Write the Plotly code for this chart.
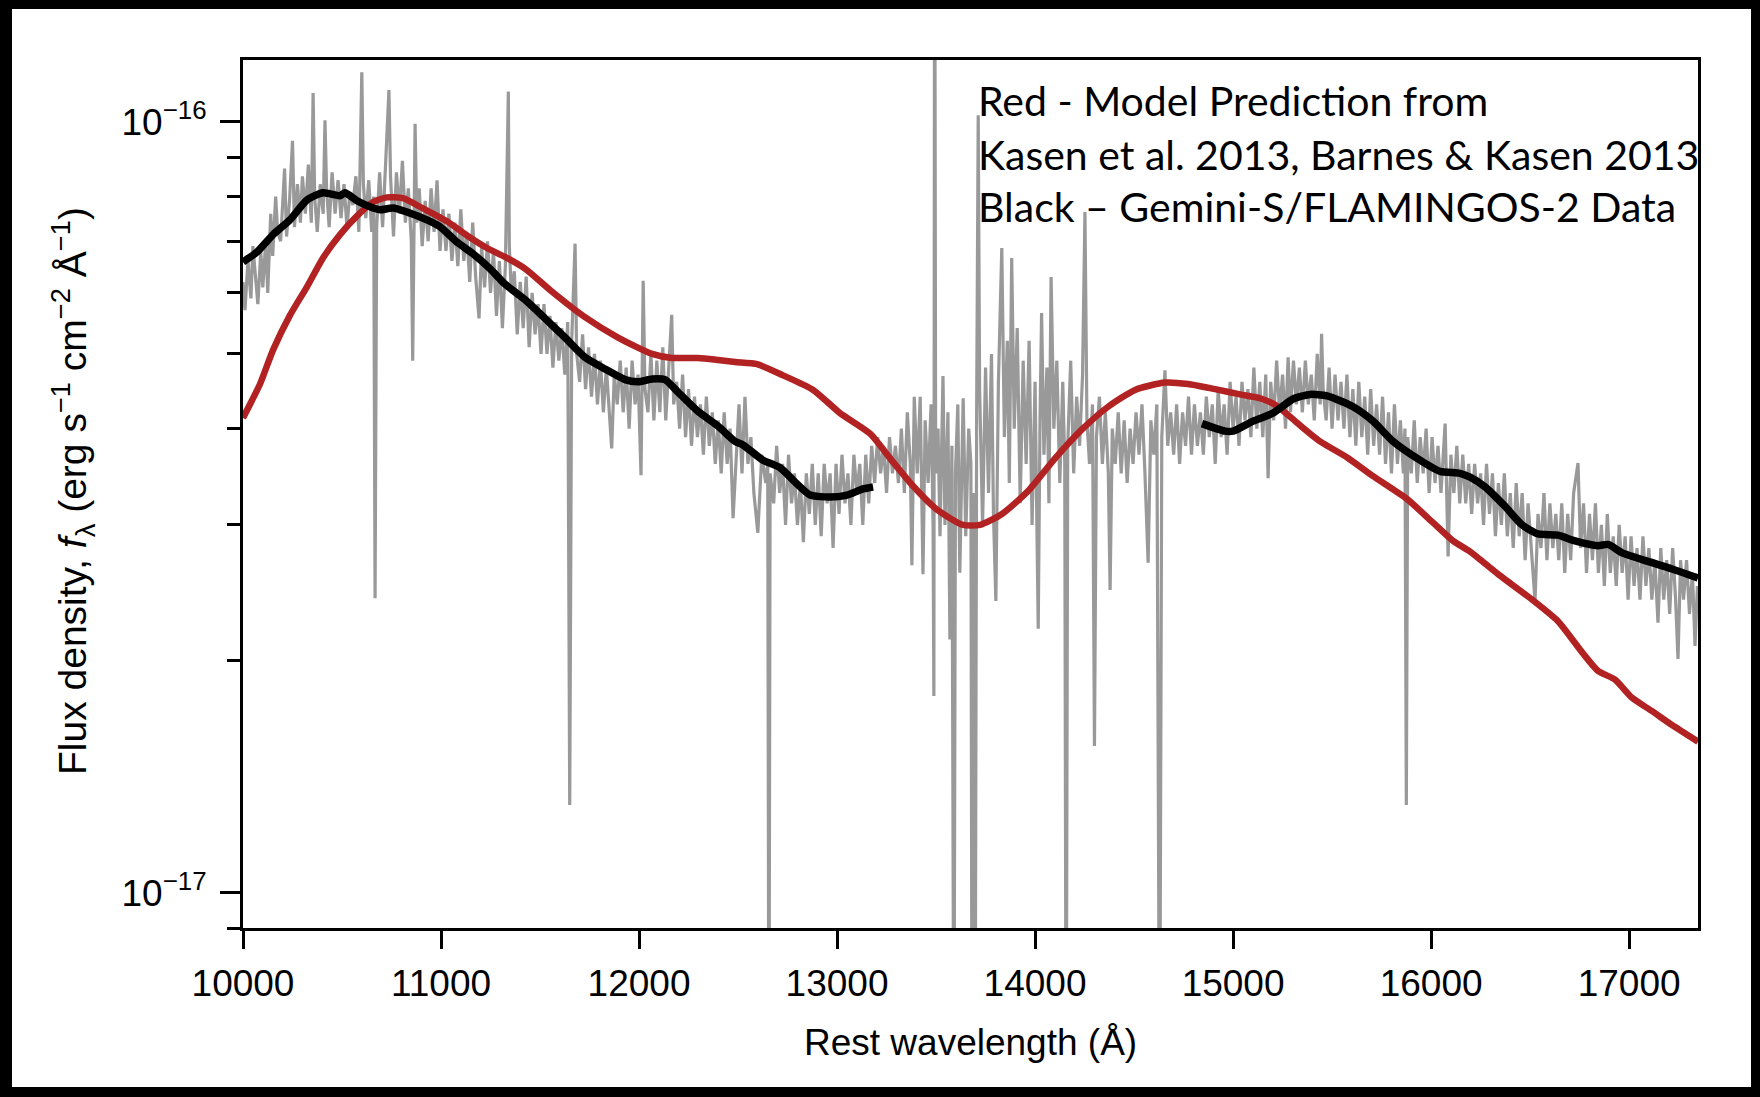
import plotly.graph_objects as go
import numpy as np

# ---------------- data (flux in units of 1e-17 erg s^-1 cm^-2 A^-1) ----------------
FLUX_UNIT = 1e-17

# Gray: observed spectrum, split into wavelength segments
gray_wave_1 = [10000, 10010, 10025, 10040, 10050, 10065, 10075, 10090, 10100, 10115,
               10125, 10140, 10150, 10165, 10175, 10190, 10200, 10210, 10220, 10235,
               10250, 10260, 10275, 10290, 10300, 10315, 10330, 10345, 10354, 10362,
               10375, 10390, 10405, 10414, 10422, 10435, 10450, 10465, 10480, 10495,
               10510, 10525, 10540, 10555, 10570, 10585, 10600, 10608, 10620, 10635,
               10650, 10660, 10667, 10675, 10690, 10705, 10720, 10737, 10745, 10760,
               10775, 10790, 10805, 10820, 10835, 10850, 10857, 10863, 10869, 10878,
               10890, 10905, 10920, 10935, 10950, 10965, 10980, 10995]
gray_flux_1 = [6.2, 5.7, 6.6, 5.9, 6.9, 6.3, 5.8, 6.8, 6.1, 7.0,
               6.0, 7.6, 6.7, 8.0, 7.2, 7.0, 7.8, 8.7, 7.1, 7.9,
               9.45, 7.3, 8.3, 7.4, 8.5, 7.6, 8.8, 7.4, 10.9, 8.0,
               7.2, 8.3, 7.6, 10.05, 8.2, 7.3, 8.6, 7.6, 8.4, 7.5,
               8.3, 7.3, 8.1, 7.8, 8.5, 7.2, 11.6, 8.3, 7.5, 8.4,
               7.2, 8.0, 2.41, 7.3, 8.6, 7.3, 8.8, 11.0, 8.5, 7.1,
               8.6, 7.6, 8.9, 7.4, 8.2, 7.0, 4.9, 7.6, 9.94, 7.4,
               8.2, 6.9, 7.9, 7.0, 8.2, 7.2, 8.4, 6.8]

gray_wave_2 = [11010, 11025, 11040, 11055, 11070, 11085, 11100, 11115, 11130, 11145,
               11160, 11175, 11192, 11205, 11220, 11235, 11250, 11265, 11280, 11295,
               11310, 11325, 11335, 11340, 11345, 11355, 11370, 11385, 11400, 11415,
               11430, 11445, 11460, 11475, 11490, 11505, 11520, 11535, 11550, 11565,
               11580, 11595, 11610, 11625, 11640, 11650, 11660, 11677, 11685, 11700,
               11715, 11730, 11745, 11760, 11775, 11790, 11805, 11820, 11835, 11850,
               11862, 11875, 11890, 11905, 11920, 11935, 11950, 11965, 11980, 11995]
gray_flux_2 = [7.7, 6.8, 7.6, 6.6, 7.4, 6.5, 7.7, 6.6, 7.2, 6.2,
               7.4, 6.3, 5.56, 6.9, 6.1, 7.0, 6.0, 6.8, 5.6, 6.6,
               5.4, 6.5, 9.6, 10.95, 6.9, 6.0, 6.4, 5.3, 6.2, 5.4,
               6.3, 5.1, 6.0, 5.3, 5.8, 5.0, 5.8, 5.0, 5.6, 4.8,
               5.5, 4.9, 5.4, 4.7, 5.5, 1.30, 5.2, 6.95, 5.0, 4.6,
               5.3, 4.5, 5.1, 4.4, 5.0, 4.3, 4.9, 4.2, 4.8, 4.1,
               3.77, 4.7, 4.3, 4.9, 4.2, 4.8, 4.0, 4.9, 4.3, 4.7]

gray_wave_3 = [12010, 12021, 12030, 12045, 12060, 12075, 12090, 12105, 12120, 12135,
               12150, 12165, 12175, 12190, 12205, 12220, 12235, 12250, 12265, 12280,
               12295, 12310, 12325, 12340, 12355, 12370, 12385, 12400, 12415, 12430,
               12445, 12460, 12475, 12490, 12505, 12520, 12535, 12550, 12565, 12580,
               12600, 12620, 12640, 12650, 12656, 12662, 12680, 12695, 12710, 12725,
               12740, 12755, 12770, 12785, 12800, 12815, 12830, 12845, 12860, 12875,
               12890, 12905, 12920, 12935, 12950, 12965, 12980, 12995]
gray_flux_3 = [3.48, 6.22, 4.5, 4.2, 5.0, 4.1, 4.9, 4.2, 5.1, 4.1,
               4.8, 5.62, 4.3, 4.6, 4.0, 4.7, 3.9, 4.5, 3.8, 4.4,
               3.9, 4.3, 3.7, 4.4, 3.8, 4.2, 3.6, 4.1, 3.5, 4.2,
               3.6, 4.0, 3.06, 3.7, 4.3, 3.5, 4.4, 3.6, 3.9, 3.3,
               2.93, 3.7, 3.4, 3.6, 0.5, 3.5, 3.2, 3.8, 3.3, 3.6,
               3.0, 3.7, 3.2, 3.5, 3.0, 3.4, 2.85, 3.5, 3.1, 3.6,
               3.0, 3.5, 2.9, 3.6, 3.2, 3.5, 2.8, 3.6]

gray_wave_4 = [13010, 13025, 13040, 13055, 13070, 13085, 13100, 13115, 13130, 13145,
               13160, 13175, 13190, 13205, 13220, 13235, 13250, 13265, 13280, 13295,
               13310, 13325, 13340, 13355, 13370, 13378, 13390, 13405, 13420, 13434,
               13445, 13460, 13475, 13485, 13489, 13493, 13498, 13510, 13520, 13535,
               13545, 13560, 13570, 13580, 13590, 13598, 13610, 13620, 13637, 13650,
               13665, 13676, 13682, 13690, 13697, 13705, 13713, 13720, 13735, 13750,
               13765, 13780, 13790, 13802, 13815, 13832, 13845, 13860, 13870, 13882,
               13895, 13910, 13925, 13940, 13955, 13970, 13985]
gray_flux_4 = [3.1, 3.7, 3.2, 3.5, 3.0, 3.7, 3.3, 3.6, 3.0, 3.7,
               3.2, 3.8, 3.4, 3.9, 3.5, 3.8, 3.3, 3.9, 3.5, 3.8,
               3.4, 4.0, 3.3, 4.2, 3.6, 2.66, 4.4, 3.5, 4.4, 2.59,
               4.1, 3.4, 4.3, 3.0, 1.8, 25.0, 3.5, 4.0, 2.9, 4.68,
               3.0, 4.2, 2.13, 3.8, 0.5, 3.5, 4.3, 2.6, 4.38, 2.9,
               4.0, 3.6, 0.5, 3.3, 0.5, 4.2, 10.2, 4.5, 3.0, 4.8,
               3.3, 5.0, 3.1, 2.39, 4.6, 6.86, 3.9, 5.2, 3.4, 6.66,
               4.0, 5.4, 3.2, 4.9, 3.6, 5.2, 3.0]

gray_wave_5 = [14000, 14016, 14025, 14033, 14045, 14060, 14070, 14081, 14095, 14110,
               14125, 14140, 14150, 14157, 14165, 14180, 14195, 14210, 14225, 14240,
               14252, 14262, 14275, 14290, 14300, 14310, 14325, 14340, 14355, 14370,
               14379, 14390, 14405, 14420, 14435, 14450, 14465, 14480, 14495, 14510,
               14525, 14540, 14555, 14571, 14585, 14600, 14615, 14629, 14640, 14656,
               14670, 14685, 14700, 14715, 14730, 14745, 14760, 14775, 14790, 14805,
               14820, 14835, 14850, 14865, 14880, 14895, 14910, 14925, 14940, 14955,
               14970, 14985]
gray_flux_5 = [4.6, 2.20, 4.1, 5.65, 3.7, 4.8, 3.2, 6.29, 4.0, 4.9,
               3.4, 4.6, 3.6, 0.5, 3.8, 4.9, 3.5, 4.4, 3.8, 4.7,
               7.64, 4.1, 3.6, 4.3, 1.55, 3.9, 4.4, 3.6, 4.2, 3.5,
               2.47, 4.0, 3.6, 4.2, 3.5, 4.1, 3.4, 4.0, 3.6, 4.2,
               3.7, 4.3, 3.5, 2.68, 4.1, 3.7, 4.3, 0.5, 3.9, 4.76,
               3.8, 4.2, 3.7, 4.3, 3.6, 4.2, 3.8, 4.4, 3.7, 4.3,
               3.8, 4.2, 3.7, 4.4, 3.9, 4.3, 3.6, 4.5, 3.9, 4.3,
               3.7, 4.6]

gray_wave_6 = [15000, 15015, 15030, 15045, 15060, 15075, 15090, 15105, 15120, 15135,
               15150, 15165, 15177, 15190, 15205, 15220, 15235, 15250, 15265, 15278,
               15290, 15305, 15320, 15335, 15350, 15365, 15380, 15395, 15410, 15425,
               15440, 15447, 15455, 15470, 15485, 15500, 15515, 15530, 15545, 15560,
               15575, 15590, 15605, 15620, 15635, 15650, 15665, 15680, 15695, 15710,
               15725, 15740, 15755, 15770, 15785, 15800, 15815, 15830, 15845, 15860,
               15868, 15875, 15882, 15900, 15915, 15930, 15945, 15960, 15975, 15990]
gray_flux_6 = [4.0, 4.4, 3.8, 4.6, 4.1, 4.5, 3.9, 4.8, 4.0, 4.6,
               3.9, 4.7, 3.45, 4.6, 4.1, 4.9, 4.2, 4.7, 4.0, 4.95,
               4.2, 4.9, 4.3, 4.8, 4.2, 4.9, 4.3, 4.7, 4.1, 5.0,
               4.3, 5.31, 4.5, 4.1, 4.8, 4.0, 4.7, 4.1, 4.6, 4.0,
               4.7, 3.9, 4.5, 3.8, 4.6, 3.9, 4.4, 3.7, 4.5, 3.8,
               4.3, 3.7, 4.4, 3.6, 4.2, 3.5, 4.3, 3.6, 4.1, 3.5,
               4.0, 1.30, 3.9, 3.5, 4.1, 3.4, 3.9, 3.5, 4.0, 3.3]

gray_wave_7 = [16005, 16020, 16035, 16050, 16071, 16086, 16100, 16115, 16130, 16145,
               16160, 16175, 16190, 16205, 16220, 16235, 16250, 16265, 16280, 16295,
               16310, 16325, 16340, 16355, 16370, 16385, 16400, 16415, 16430, 16445,
               16460, 16475, 16490, 16505, 16525, 16540, 16555, 16570, 16585, 16600,
               16615, 16630, 16645, 16660, 16675, 16690, 16705, 16720, 16742, 16755,
               16770, 16785, 16800, 16815, 16830, 16845, 16860, 16875, 16890, 16905,
               16920, 16935, 16950, 16965, 16980, 16995, 17010, 17025, 17040, 17055,
               17070, 17085, 17100, 17115, 17130, 17146, 17160, 17175, 17190, 17205,
               17220, 17235, 17247, 17260, 17275, 17290, 17305, 17320, 17333, 17345]
gray_flux_7 = [3.9, 3.4, 3.8, 3.3, 4.06, 2.73, 3.7, 3.3, 3.8, 3.2,
               3.7, 3.2, 3.6, 3.1, 3.6, 3.2, 3.5, 3.0, 3.6, 3.1,
               3.5, 2.9, 3.4, 3.0, 3.5, 2.9, 3.3, 2.8, 3.4, 2.9,
               3.3, 2.7, 3.2, 2.8, 2.39, 3.1, 2.8, 3.3, 2.7, 3.2,
               2.8, 3.1, 2.7, 3.2, 2.6, 3.1, 2.7, 3.3, 3.61, 2.8,
               3.2, 2.6, 3.1, 2.7, 3.2, 2.6, 3.0, 2.5, 3.1, 2.6,
               2.9, 2.5, 3.0, 2.6, 2.9, 2.4, 2.9, 2.5, 2.8, 2.4,
               2.9, 2.5, 2.8, 2.4, 2.7, 2.24, 2.8, 2.4, 2.7, 2.3,
               2.8, 2.4, 2.01, 2.7, 2.4, 2.7, 2.3, 2.6, 2.09, 2.5]

# Red: model prediction
red_wave = [10000, 10086, 10152, 10237, 10323, 10404, 10490, 10576, 10657, 10727,
            10808, 10909, 11030, 11131, 11232, 11323, 11424, 11561, 11727, 11894,
            12066, 12167, 12298, 12399, 12485, 12596, 12727, 12879, 13015, 13167,
            13268, 13384, 13505, 13636, 13722, 13833, 13965, 14101, 14237, 14369,
            14505, 14657, 14773, 14909, 15035, 15136, 15222, 15323, 15439, 15576,
            15707, 15879, 16010, 16111, 16197, 16338, 16510, 16641, 16763, 16843,
            16929, 17015, 17116, 17217, 17348]
red_flux = [4.13, 4.57, 5.06, 5.61, 6.11, 6.66, 7.14, 7.55, 7.87, 7.98,
            7.96, 7.72, 7.43, 7.12, 6.86, 6.68, 6.45, 6.02, 5.58, 5.25,
            5.00, 4.94, 4.94, 4.91, 4.88, 4.85, 4.69, 4.49, 4.19, 3.94,
            3.66, 3.37, 3.14, 3.00, 3.00, 3.10, 3.32, 3.66, 3.99, 4.27,
            4.49, 4.59, 4.57, 4.50, 4.43, 4.38, 4.28, 4.07, 3.85, 3.67,
            3.47, 3.24, 3.02, 2.86, 2.77, 2.59, 2.40, 2.25, 2.05, 1.94,
            1.89, 1.79, 1.72, 1.65, 1.57]

# Black: smoothed data, two segments
black_wave_1 = [10000, 10071, 10152, 10237, 10323, 10404, 10490, 10515, 10576, 10657,
                10692, 10758, 10828, 10929, 10995, 11081, 11162, 11247, 11323, 11424,
                11525, 11626, 11727, 11828, 11929, 11995, 12066, 12131, 12197, 12298,
                12399, 12485, 12525, 12626, 12712, 12798, 12864, 12965, 13050, 13131,
                13182]
black_flux_1 = [6.58, 6.78, 7.14, 7.46, 7.92, 8.09, 8.02, 8.09, 7.90, 7.73,
                7.69, 7.73, 7.64, 7.46, 7.31, 6.98, 6.74, 6.45, 6.16, 5.88,
                5.56, 5.25, 4.95, 4.78, 4.63, 4.60, 4.64, 4.63, 4.46, 4.21,
                4.03, 3.85, 3.81, 3.64, 3.56, 3.39, 3.28, 3.26, 3.28, 3.34,
                3.36]
black_wave_2 = [14843, 14960, 15000, 15101, 15202, 15303, 15389, 15475, 15606, 15707,
                15808, 15944, 16045, 16146, 16197, 16273, 16374, 16460, 16540, 16641,
                16727, 16843, 16894, 16965, 17096, 17217, 17348]
black_flux_2 = [4.06, 3.97, 3.97, 4.09, 4.19, 4.37, 4.43, 4.41, 4.27, 4.09,
                3.85, 3.64, 3.52, 3.50, 3.46, 3.36, 3.17, 3.00, 2.92, 2.91,
                2.86, 2.82, 2.83, 2.76, 2.69, 2.63, 2.56]

x_tick_vals = [10000, 11000, 12000, 13000, 14000, 15000, 16000, 17000]
x_tick_text = ["10000", "11000", "12000", "13000", "14000", "15000", "16000", "17000"]
y_major_vals = [1e-17, 1e-16]
y_major_text = ["10<sup>−17</sup>", "10<sup>−16</sup>"]
y_minor_vals = [9e-18, 2e-17, 3e-17, 4e-17, 5e-17, 6e-17, 7e-17, 8e-17, 9e-17]

note_lines = ["Red - Model Prediction from",
              "Kasen et al. 2013, Barnes & Kasen 2013",
              "Black – Gemini-S/FLAMINGOS-2 Data"]

# ---------------- layout geometry (pixels) ----------------
W, H = 1760, 1097
PL, PR, PT, PB = 243, 1698, 60, 928


def px(x):
    return (x - PL) / (PR - PL)


def py(y):
    return (PB - y) / (PB - PT)


gray_wave = (gray_wave_1 + gray_wave_2 + gray_wave_3 + gray_wave_4 +
             gray_wave_5 + gray_wave_6 + gray_wave_7)
gray_flux = (gray_flux_1 + gray_flux_2 + gray_flux_3 + gray_flux_4 +
             gray_flux_5 + gray_flux_6 + gray_flux_7)

fig = go.Figure()
fig.add_trace(go.Scatter(x=gray_wave, y=np.array(gray_flux) * FLUX_UNIT, mode="lines",
                         line=dict(color="#999999", width=3.2), hoverinfo="skip"))
fig.add_trace(go.Scatter(x=red_wave, y=np.array(red_flux) * FLUX_UNIT, mode="lines",
                         line=dict(color="#B22222", width=6.5, shape="spline", smoothing=0.6)))
fig.add_trace(go.Scatter(x=black_wave_1, y=np.array(black_flux_1) * FLUX_UNIT, mode="lines",
                         line=dict(color="black", width=7.5, shape="spline", smoothing=0.6)))
fig.add_trace(go.Scatter(x=black_wave_2, y=np.array(black_flux_2) * FLUX_UNIT, mode="lines",
                         line=dict(color="black", width=7.5, shape="spline", smoothing=0.6)))

tick_font = dict(family="Liberation Sans, Arial, sans-serif", size=37, color="black")

fig.update_layout(
    width=W, height=H, autosize=False, template="none", showlegend=False,
    paper_bgcolor="white", plot_bgcolor="white",
    margin=dict(l=PL, r=W - PR, t=PT, b=H - PB, pad=0),
    xaxis=dict(range=[10000, 17348], tickmode="array", tickvals=x_tick_vals, ticktext=x_tick_text,
               ticks="outside", ticklen=18, tickwidth=3, tickcolor="black",
               showline=True, linewidth=3, linecolor="black", mirror=True,
               showgrid=False, zeroline=False, tickfont=tick_font, automargin=False,
               ticklabelstandoff=3),
    yaxis=dict(type="log", range=[np.log10(9.0e-18), np.log10(1.2029e-16)],
               tickmode="array", tickvals=y_major_vals, ticktext=y_major_text,
               ticks="outside", ticklen=20, tickwidth=3, tickcolor="black",
               showline=True, linewidth=3, linecolor="black", mirror=True,
               showgrid=False, zeroline=False, tickfont=tick_font, automargin=False,
               ticklabelstandoff=6,
               minor=dict(tickmode="array", tickvals=y_minor_vals, ticks="outside",
                          ticklen=13, tickwidth=2.5, tickcolor="black", showgrid=False)),
)

annotations = []
for txt, yy in zip(note_lines, [100, 154, 207]):
    annotations.append(dict(xref="paper", yref="paper", x=px(976), y=py(yy), text=txt,
                            showarrow=False, xanchor="left", yanchor="middle",
                            font=dict(family="Lato, Open Sans, sans-serif", size=41, color="black")))
annotations.append(dict(xref="paper", yref="paper", x=px(970), y=py(1042),
                        text="Rest wavelength (Å)", showarrow=False,
                        xanchor="center", yanchor="middle",
                        font=dict(family="Liberation Sans, Arial, sans-serif", size=37, color="black")))
annotations.append(dict(xref="paper", yref="paper", x=px(73), y=py(491),
                        text="Flux density, <i>f</i><sub>λ</sub> (erg s<sup>−1</sup> cm<sup>−2</sup> Å<sup>−1</sup>)",
                        textangle=-90, showarrow=False, xanchor="center", yanchor="middle",
                        font=dict(family="Liberation Sans, Arial, sans-serif", size=39, color="black")))
fig.update_layout(annotations=annotations)

# outer black frame of the picture
frame = [(0, 0, 12, H), (1751, 0, W, H), (0, 0, W, 9), (0, 1087, W, H)]
shapes = []
for x0, y0, x1, y1 in frame:
    shapes.append(dict(type="rect", xref="paper", yref="paper",
                       x0=px(x0), x1=px(x1), y0=py(y1), y1=py(y0),
                       fillcolor="black", line=dict(width=0), layer="above"))
fig.update_layout(shapes=shapes)

fig.write_html("out.html")
